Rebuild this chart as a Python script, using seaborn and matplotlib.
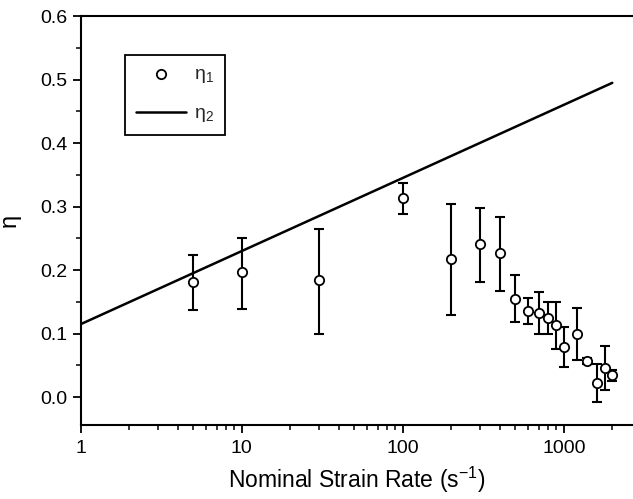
import numpy as np
import pandas as pd
import matplotlib
matplotlib.use("Agg")
import matplotlib.pyplot as plt
import matplotlib.ticker as mticker
import seaborn as sns

strain_rate = [5, 10, 30, 100, 200, 300, 400, 500, 600, 700, 800, 900, 1000, 1200, 1400, 1600, 1800, 2000]
eta1 = [0.181, 0.197, 0.184, 0.314, 0.218, 0.241, 0.227, 0.154, 0.136, 0.132, 0.125, 0.113, 0.079, 0.099, 0.057, 0.023, 0.046, 0.035]
eta1_low = [0.137, 0.139, 0.099, 0.289, 0.129, 0.182, 0.167, 0.118, 0.115, 0.100, 0.100, 0.076, 0.047, 0.059, 0.053, -0.008, 0.012, 0.026]
eta1_high = [0.224, 0.251, 0.265, 0.338, 0.305, 0.298, 0.283, 0.193, 0.157, 0.165, 0.150, 0.150, 0.111, 0.141, 0.061, 0.052, 0.081, 0.043]

# eta_2 straight line (end points)
line_rate = [1, 2000]
eta2 = [0.115, 0.495]

df = pd.DataFrame({"rate": strain_rate, "eta": eta1, "lo": eta1_low, "hi": eta1_high})
df2 = pd.DataFrame({"rate": line_rate, "eta": eta2})

sns.set_theme(style="ticks")
plt.rcParams['font.family'] = ['Liberation Sans', 'DejaVu Sans']
plt.rcParams['mathtext.fontset'] = 'dejavusans'

fig = plt.figure(figsize=(6.33, 4.99), dpi=100)
ax = fig.add_axes([0.1275, 0.148, 0.8725, 0.8196])

ax.set_xscale("log")

yerr = np.array([df["eta"] - df["lo"], df["hi"] - df["eta"]])
ax.errorbar(df["rate"], df["eta"], yerr=yerr, fmt="none", ecolor="black",
            elinewidth=1.5, capsize=3.5, capthick=1.5, zorder=2)
sns.scatterplot(data=df, x="rate", y="eta", ax=ax, marker="o", s=45,
                facecolor="white", edgecolor="black", linewidth=1.3,
                label=r"η$_{\mathregular{1}}$", zorder=3)
sns.lineplot(data=df2, x="rate", y="eta", ax=ax, color="black", linewidth=1.8,
             label=r"η$_{\mathregular{2}}$", zorder=1)

ax.set_xlim(1, 2690)
ax.set_ylim(-0.044, 0.6)
ax.xaxis.set_major_locator(mticker.FixedLocator([1, 10, 100, 1000]))
ax.xaxis.set_major_formatter(mticker.FixedFormatter(["1", "10", "100", "1000"]))
ax.xaxis.set_minor_locator(mticker.LogLocator(base=10, subs=np.arange(2, 10)))
ax.xaxis.set_minor_formatter(mticker.NullFormatter())
ax.yaxis.set_major_locator(mticker.MultipleLocator(0.1))
ax.yaxis.set_minor_locator(mticker.MultipleLocator(0.05))
ax.yaxis.set_major_formatter(mticker.FormatStrFormatter("%.1f"))

ax.tick_params(which="major", direction="out", length=6, width=1.3, labelsize=14,
               color="black", labelcolor="black")
ax.tick_params(which="minor", direction="out", length=3.5, width=1.1, color="black")
ax.tick_params(axis="x", which="major", pad=5)
for side in ["left", "bottom", "top"]:
    ax.spines[side].set_linewidth(1.5)
    ax.spines[side].set_color("black")
ax.spines["right"].set_visible(False)

ax.set_xlabel(r"Nominal Strain Rate (s$^{\mathregular{-1}}$)", fontsize=16.5, labelpad=5, color="black")
ax.set_ylabel("η", fontsize=17, labelpad=14, color="black")

# boxed legend in the upper left
leg = ax.legend(loc="upper left", bbox_to_anchor=(0.08, 0.905), borderaxespad=0,
                fancybox=False, framealpha=1, edgecolor="black", fontsize=14,
                handlelength=2.6, borderpad=0.55, labelspacing=1.0, handletextpad=0.4)
leg.get_frame().set_linewidth(1.3)

fig.savefig("out.png", dpi=100)
